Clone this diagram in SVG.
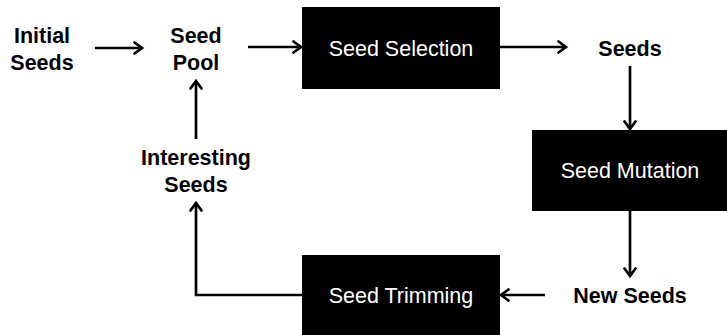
<svg xmlns="http://www.w3.org/2000/svg" width="727" height="335" viewBox="0 0 727 335">
<defs>
<style>
.lbl{font-family:"Liberation Sans",Arial,sans-serif;font-weight:bold;font-size:21.5px;fill:#000;text-anchor:middle}
.box{fill:#000}
.bt{font-family:"Liberation Sans",Arial,sans-serif;font-size:21.5px;fill:#fff;text-anchor:middle}
.c{fill:none;stroke:#000;stroke-width:2.7}
</style>
<marker id="ah" viewBox="0 0 14 14" refX="11" refY="7" markerWidth="14" markerHeight="14" markerUnits="userSpaceOnUse" orient="auto">
<path d="M3.5,1.5 L11,7 L3.5,12.5" fill="none" stroke="#000" stroke-width="2.7" stroke-linecap="round" stroke-linejoin="miter"/>
</marker>
</defs>
<rect width="727" height="335" fill="#fff"/>
<g id="connectors">
<path class="c" d="M95,48 H142" marker-end="url(#ah)"/>
<path class="c" d="M248,47 H301" marker-end="url(#ah)"/>
<path class="c" d="M500,47 H566" marker-end="url(#ah)"/>
<path class="c" d="M630,66 V129" marker-end="url(#ah)"/>
<path class="c" d="M630,211 V276" marker-end="url(#ah)"/>
<path class="c" d="M545,295 H501" marker-end="url(#ah)"/>
<path class="c" d="M302,295 H196 V203" marker-end="url(#ah)"/>
<path class="c" d="M196,139 V81" marker-end="url(#ah)"/>
</g>
<g id="initial-seeds"><text class="lbl" x="42" y="43">Initial</text><text class="lbl" x="42" y="70">Seeds</text></g>
<g id="seed-pool"><text class="lbl" x="196" y="43">Seed</text><text class="lbl" x="196" y="70">Pool</text></g>
<g id="seed-selection"><rect class="box" x="302" y="7" width="198" height="82"/><text class="bt" x="401" y="56">Seed Selection</text></g>
<g id="seeds"><text class="lbl" x="630" y="56">Seeds</text></g>
<g id="seed-mutation"><rect class="box" x="532" y="130" width="195" height="81"/><text class="bt" x="630" y="178">Seed Mutation</text></g>
<g id="new-seeds"><text class="lbl" x="630" y="303">New Seeds</text></g>
<g id="seed-trimming"><rect class="box" x="302" y="255" width="198" height="80"/><text class="bt" x="401" y="303">Seed Trimming</text></g>
<g id="interesting-seeds"><text class="lbl" x="196" y="165">Interesting</text><text class="lbl" x="196" y="192">Seeds</text></g>
</svg>
